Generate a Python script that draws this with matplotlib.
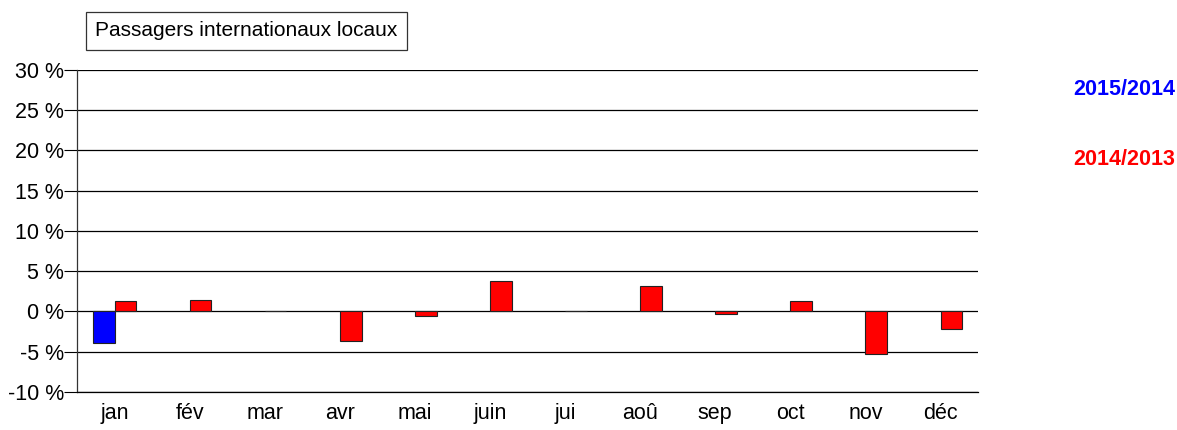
import numpy as np
import matplotlib.pyplot as plt

plt.rcParams["font.family"] = ["Liberation Sans", "DejaVu Sans"]

# Monthly change in local international passengers (%)
months = ["jan", "fév", "mar", "avr", "mai", "juin", "jui", "aoû", "sep", "oct", "nov", "déc"]
var_2015_2014 = [-3.9]
var_2014_2013 = [1.35, 1.45, 0.12, -3.7, -0.6, 3.8, 0.12, 3.2, -0.35, 1.3, -5.3, -2.2]
y_ticks = [-10, -5, 0, 5, 10, 15, 20, 25, 30]

fig = plt.figure(figsize=(11.77, 4.30), dpi=100)
ax = fig.add_axes([0.0654, 0.0884, 0.7656, 0.7488])

x = np.arange(len(months))
w = 0.29
ax.bar(x[:len(var_2015_2014)] - w / 2, var_2015_2014, width=w,
       color="#0000ff", edgecolor="#222222", linewidth=0.8, zorder=3)
ax.bar(x + w / 2, var_2014_2013, width=w,
       color="#ff0000", edgecolor="#222222", linewidth=0.8, zorder=3)

ax.set_xlim(-0.5, len(months) - 0.5)
ax.set_ylim(-10, 30)
ax.set_yticks(y_ticks)
ax.set_yticklabels([f"{v} %" for v in y_ticks], fontsize=15.5)
ax.set_xticks(x)
ax.set_xticklabels(months, fontsize=15.5)
ax.tick_params(axis="x", length=0, pad=8)
ax.tick_params(axis="y", length=9.5, width=0.8, pad=0, direction="out")
ax.yaxis.grid(True, color="black", linewidth=0.9, zorder=0)
for s in ["top", "right"]:
    ax.spines[s].set_visible(False)
ax.spines["bottom"].set_linewidth(0.9)
ax.spines["left"].set_linewidth(0.9)
ax.spines["left"].set_color("#333333")

fig.text(0.0807, 0.928, "Passagers internationaux locaux", fontsize=15,
         ha="left", va="center",
         bbox=dict(boxstyle="square,pad=0.45", facecolor="white",
                   edgecolor="#333333", linewidth=0.9))

fig.text(0.955, 0.793, "2015/2014", color="#0000ff", fontsize=15.5,
         fontweight="bold", ha="center", va="center")
fig.text(0.955, 0.630, "2014/2013", color="#ff0000", fontsize=15.5,
         fontweight="bold", ha="center", va="center")

fig.savefig("out.png", dpi=100)
